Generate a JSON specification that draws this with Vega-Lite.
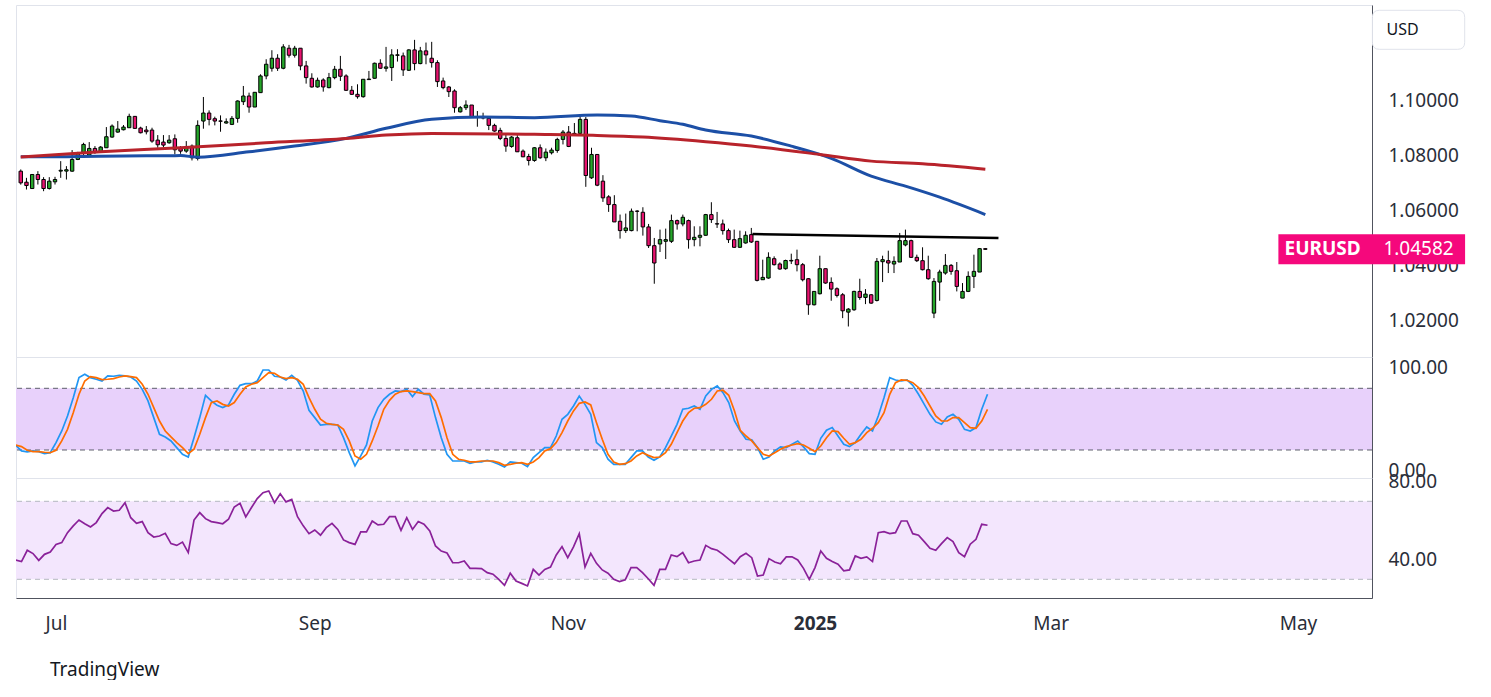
{
"$schema":"https://vega.github.io/schema/vega-lite/v6.json",
"background":"#ffffff",
"padding":{"left":15,"top":4,"right":0,"bottom":0},
"spacing":0,
"bounds":"flush",
"config":{"view":{"stroke":"#e0e3eb","strokeWidth":1},"font":"Noto Sans","axis":{"grid":false,"ticks":false,"tickSize":0,"domainColor":"#50535e","labelFont":"Noto Sans","labelFontSize":19,"labelColor":"#2a2e39"}},
"title":{"text":"TradingView","orient":"bottom","anchor":"start","font":"Noto Sans","fontSize":19,"fontWeight":"normal","color":"#131722","offset":27,"dx":35},
"datasets":{
"bars":[
{"i":-7,"o":1.07418,"h":1.0748,"l":1.0693,"c":1.06994,"k":24.6,"d":24.9,"r":39.9},
{"i":-6,"o":1.07018,"h":1.07176,"l":1.06752,"c":1.06897,"k":19.1,"d":23.3,"r":39.1},
{"i":-5,"o":1.06788,"h":1.0731,"l":1.0677,"c":1.07297,"k":18.1,"d":19.7,"r":44.9},
{"i":-4,"o":1.07297,"h":1.07418,"l":1.06933,"c":1.07115,"k":19.1,"d":18.4,"r":43.2},
{"i":-3,"o":1.07115,"h":1.072,"l":1.06691,"c":1.06788,"k":18.4,"d":18.4,"r":39.7},
{"i":-2,"o":1.06788,"h":1.072,"l":1.06752,"c":1.07055,"k":16.5,"d":17.8,"r":42.8},
{"i":-1,"o":1.0703,"h":1.07212,"l":1.06933,"c":1.07115,"k":17.4,"d":17.4,"r":44.0},
{"i":0,"o":1.0742,"h":1.07782,"l":1.07176,"c":1.0745,"k":27.2,"d":19.7,"r":47.9},
{"i":1,"o":1.0742,"h":1.076,"l":1.07115,"c":1.0747,"k":38.5,"d":28.8,"r":48.8},
{"i":2,"o":1.07418,"h":1.08182,"l":1.07394,"c":1.07842,"k":53.1,"d":40.1,"r":53.9},
{"i":3,"o":1.07842,"h":1.0812,"l":1.0782,"c":1.08085,"k":70.9,"d":56.3,"r":57.4},
{"i":4,"o":1.08085,"h":1.08448,"l":1.08,"c":1.08388,"k":90.4,"d":74.2,"r":60.4},
{"i":5,"o":1.08,"h":1.08473,"l":1.07964,"c":1.08242,"k":93.6,"d":87.1,"r":58.5},
{"i":6,"o":1.08242,"h":1.08327,"l":1.08048,"c":1.08121,"k":90.4,"d":91.3,"r":56.8},
{"i":7,"o":1.08121,"h":1.08327,"l":1.0811,"c":1.08291,"k":88.8,"d":90.4,"r":59.1},
{"i":8,"o":1.08267,"h":1.09018,"l":1.08267,"c":1.08667,"k":87.1,"d":88.4,"r":63.7},
{"i":9,"o":1.08655,"h":1.09115,"l":1.0863,"c":1.09055,"k":92.0,"d":88.8,"r":66.8},
{"i":10,"o":1.08836,"h":1.09236,"l":1.08812,"c":1.08945,"k":91.7,"d":89.4,"r":65.0},
{"i":11,"o":1.08921,"h":1.09091,"l":1.08897,"c":1.09018,"k":92.6,"d":91.0,"r":65.4},
{"i":12,"o":1.08994,"h":1.09503,"l":1.08994,"c":1.09406,"k":92.0,"d":92.0,"r":69.3},
{"i":13,"o":1.09406,"h":1.09418,"l":1.08958,"c":1.0897,"k":91.0,"d":91.3,"r":61.6},
{"i":14,"o":1.08982,"h":1.0903,"l":1.08788,"c":1.08812,"k":87.1,"d":90.4,"r":58.7},
{"i":15,"o":1.08909,"h":1.09055,"l":1.08752,"c":1.08848,"k":79.0,"d":83.9,"r":59.6},
{"i":16,"o":1.08909,"h":1.08994,"l":1.08448,"c":1.08509,"k":67.7,"d":74.2,"r":53.9},
{"i":17,"o":1.08545,"h":1.08727,"l":1.08267,"c":1.08376,"k":51.5,"d":61.2,"r":51.7},
{"i":18,"o":1.08473,"h":1.08727,"l":1.08291,"c":1.08364,"k":35.3,"d":48.2,"r":52.2},
{"i":19,"o":1.08448,"h":1.08727,"l":1.08412,"c":1.08545,"k":32.7,"d":38.5,"r":53.6},
{"i":20,"o":1.08594,"h":1.08752,"l":1.08024,"c":1.08194,"k":28.8,"d":32.7,"r":48.3},
{"i":21,"o":1.08242,"h":1.08327,"l":1.08048,"c":1.08145,"k":22.3,"d":27.2,"r":47.4},
{"i":22,"o":1.08145,"h":1.08509,"l":1.08085,"c":1.08267,"k":15.8,"d":22.3,"r":49.1},
{"i":23,"o":1.08327,"h":1.08388,"l":1.07806,"c":1.07903,"k":13.2,"d":16.5,"r":43.7},
{"i":24,"o":1.07879,"h":1.09261,"l":1.07806,"c":1.09079,"k":32.0,"d":20.7,"r":60.4},
{"i":25,"o":1.09236,"h":1.10109,"l":1.08958,"c":1.09527,"k":51.5,"d":35.3,"r":64.2},
{"i":26,"o":1.09527,"h":1.09624,"l":1.09079,"c":1.09297,"k":73.2,"d":51.5,"r":61.1},
{"i":27,"o":1.09321,"h":1.09394,"l":1.09079,"c":1.09236,"k":67.7,"d":66.1,"r":59.6},
{"i":28,"o":1.0924,"h":1.09442,"l":1.08848,"c":1.0923,"k":63.5,"d":67.7,"r":59.1},
{"i":29,"o":1.09164,"h":1.09333,"l":1.09139,"c":1.09212,"k":61.2,"d":64.4,"r":58.5},
{"i":30,"o":1.09115,"h":1.09418,"l":1.09091,"c":1.09333,"k":63.8,"d":62.8,"r":60.8},
{"i":31,"o":1.09333,"h":1.09988,"l":1.09176,"c":1.09964,"k":74.2,"d":66.1,"r":67.1},
{"i":32,"o":1.09939,"h":1.10509,"l":1.09818,"c":1.10145,"k":82.9,"d":74.2,"r":69.0},
{"i":33,"o":1.10145,"h":1.10267,"l":1.09539,"c":1.09745,"k":84.5,"d":81.3,"r":62.0},
{"i":34,"o":1.09745,"h":1.10279,"l":1.09745,"c":1.10279,"k":84.5,"d":83.9,"r":66.8},
{"i":35,"o":1.10267,"h":1.10933,"l":1.10267,"c":1.10873,"k":87.1,"d":85.5,"r":71.4},
{"i":36,"o":1.10873,"h":1.11479,"l":1.10752,"c":1.11297,"k":97.8,"d":90.4,"r":74.4},
{"i":37,"o":1.11152,"h":1.11806,"l":1.1103,"c":1.11515,"k":97.8,"d":95.2,"r":75.3},
{"i":38,"o":1.11515,"h":1.11661,"l":1.11055,"c":1.11152,"k":91.7,"d":94.6,"r":69.3},
{"i":39,"o":1.11152,"h":1.12024,"l":1.11115,"c":1.11927,"k":91.0,"d":91.0,"r":73.9},
{"i":40,"o":1.11879,"h":1.12,"l":1.11539,"c":1.11624,"k":88.1,"d":89.4,"r":69.7},
{"i":41,"o":1.11624,"h":1.11964,"l":1.11539,"c":1.11879,"k":92.6,"d":90.4,"r":71.0},
{"i":42,"o":1.11879,"h":1.11879,"l":1.11079,"c":1.11236,"k":87.8,"d":88.8,"r":62.1},
{"i":43,"o":1.11236,"h":1.11418,"l":1.10594,"c":1.10812,"k":77.4,"d":83.9,"r":57.4},
{"i":44,"o":1.10788,"h":1.1097,"l":1.10449,"c":1.10473,"k":58.6,"d":70.9,"r":53.4},
{"i":45,"o":1.10473,"h":1.10812,"l":1.10449,"c":1.10715,"k":51.5,"d":59.6,"r":55.3},
{"i":46,"o":1.10727,"h":1.10788,"l":1.10303,"c":1.10473,"k":44.3,"d":49.9,"r":52.6},
{"i":47,"o":1.10449,"h":1.10982,"l":1.10424,"c":1.10812,"k":45.0,"d":46.0,"r":56.5},
{"i":48,"o":1.10812,"h":1.11236,"l":1.10752,"c":1.11115,"k":45.0,"d":45.0,"r":58.7},
{"i":49,"o":1.11115,"h":1.116,"l":1.10691,"c":1.10861,"k":44.3,"d":44.3,"r":55.6},
{"i":50,"o":1.10873,"h":1.10933,"l":1.10327,"c":1.10352,"k":32.0,"d":40.1,"r":50.2},
{"i":51,"o":1.10352,"h":1.10509,"l":1.10182,"c":1.10206,"k":17.4,"d":28.8,"r":48.8},
{"i":52,"o":1.10206,"h":1.1057,"l":1.10048,"c":1.1012,"k":4.5,"d":14.2,"r":47.9},
{"i":53,"o":1.1012,"h":1.10752,"l":1.10085,"c":1.10752,"k":14.2,"d":11.0,"r":54.3},
{"i":54,"o":1.1074,"h":1.11055,"l":1.10727,"c":1.1076,"k":24.9,"d":15.8,"r":54.3},
{"i":55,"o":1.10788,"h":1.11357,"l":1.10776,"c":1.11333,"k":48.2,"d":28.8,"r":59.9},
{"i":56,"o":1.11333,"h":1.11479,"l":1.1114,"c":1.11152,"k":61.2,"d":43.4,"r":57.9},
{"i":57,"o":1.1115,"h":1.11927,"l":1.1103,"c":1.112,"k":69.3,"d":59.6,"r":58.2},
{"i":58,"o":1.11176,"h":1.11842,"l":1.10691,"c":1.11636,"k":74.2,"d":68.3,"r":62.1},
{"i":59,"o":1.1162,"h":1.11842,"l":1.11394,"c":1.1164,"k":77.4,"d":74.2,"r":62.1},
{"i":60,"o":1.116,"h":1.11721,"l":1.10873,"c":1.11091,"k":76.8,"d":76.8,"r":55.1},
{"i":61,"o":1.11079,"h":1.11842,"l":1.11055,"c":1.11818,"k":79.0,"d":77.4,"r":61.6},
{"i":62,"o":1.11818,"h":1.12182,"l":1.11079,"c":1.11321,"k":71.9,"d":76.8,"r":55.6},
{"i":63,"o":1.11321,"h":1.11927,"l":1.11297,"c":1.11782,"k":79.0,"d":75.8,"r":59.6},
{"i":64,"o":1.11782,"h":1.12085,"l":1.11297,"c":1.11636,"k":74.2,"d":74.8,"r":58.2},
{"i":65,"o":1.11515,"h":1.1211,"l":1.11176,"c":1.11357,"k":73.5,"d":74.8,"r":54.8},
{"i":66,"o":1.11357,"h":1.11442,"l":1.10473,"c":1.10667,"k":51.5,"d":67.7,"r":47.1},
{"i":67,"o":1.10691,"h":1.10812,"l":1.10388,"c":1.10449,"k":32.0,"d":51.5,"r":44.5},
{"i":68,"o":1.10473,"h":1.10509,"l":1.10109,"c":1.10303,"k":15.8,"d":32.0,"r":43.5},
{"i":69,"o":1.10327,"h":1.10388,"l":1.09539,"c":1.09721,"k":9.3,"d":15.8,"r":38.5},
{"i":70,"o":1.0957,"h":1.09782,"l":1.09545,"c":1.09721,"k":9.3,"d":11.0,"r":38.5},
{"i":71,"o":1.09721,"h":1.09988,"l":1.09636,"c":1.09818,"k":9.3,"d":10.0,"r":39.4},
{"i":72,"o":1.09818,"h":1.09818,"l":1.09382,"c":1.09394,"k":7.1,"d":8.4,"r":35.6},
{"i":73,"o":1.094,"h":1.096,"l":1.0903,"c":1.0938,"k":8.4,"d":8.4,"r":35.6},
{"i":74,"o":1.0936,"h":1.09539,"l":1.09297,"c":1.0935,"k":8.4,"d":9.3,"r":35.5},
{"i":75,"o":1.09333,"h":1.09418,"l":1.08909,"c":1.09079,"k":10.0,"d":9.3,"r":33.4},
{"i":76,"o":1.09079,"h":1.09139,"l":1.08848,"c":1.08873,"k":8.4,"d":9.3,"r":32.6},
{"i":77,"o":1.08897,"h":1.08994,"l":1.08545,"c":1.08606,"k":6.1,"d":7.7,"r":30.0},
{"i":78,"o":1.08606,"h":1.08752,"l":1.08121,"c":1.08327,"k":3.5,"d":5.1,"r":26.9},
{"i":79,"o":1.08315,"h":1.08691,"l":1.08267,"c":1.08655,"k":8.4,"d":6.1,"r":33.1},
{"i":80,"o":1.0863,"h":1.08727,"l":1.08121,"c":1.08121,"k":7.7,"d":7.1,"r":29.1},
{"i":81,"o":1.08145,"h":1.08206,"l":1.07927,"c":1.07939,"k":7.1,"d":7.7,"r":27.9},
{"i":82,"o":1.07951,"h":1.08048,"l":1.07624,"c":1.07806,"k":3.8,"d":6.1,"r":26.6},
{"i":83,"o":1.07806,"h":1.08291,"l":1.07758,"c":1.08267,"k":12.6,"d":8.4,"r":35.1},
{"i":84,"o":1.08267,"h":1.08388,"l":1.07867,"c":1.07903,"k":17.4,"d":12.6,"r":32.2},
{"i":85,"o":1.07903,"h":1.08242,"l":1.07782,"c":1.08109,"k":22.3,"d":19.1,"r":35.1},
{"i":86,"o":1.08085,"h":1.08267,"l":1.08024,"c":1.08182,"k":22.3,"d":21.3,"r":36.3},
{"i":87,"o":1.0817,"h":1.0863,"l":1.08085,"c":1.0857,"k":33.6,"d":27.2,"r":42.5},
{"i":88,"o":1.0857,"h":1.08909,"l":1.08388,"c":1.08836,"k":49.9,"d":36.9,"r":46.8},
{"i":89,"o":1.08836,"h":1.09055,"l":1.08291,"c":1.08315,"k":54.7,"d":48.2,"r":41.1},
{"i":90,"o":1.0877,"h":1.09164,"l":1.08697,"c":1.0879,"k":62.8,"d":58.0,"r":46.6},
{"i":91,"o":1.0879,"h":1.09382,"l":1.08752,"c":1.09297,"k":72.5,"d":65.4,"r":53.4},
{"i":92,"o":1.09297,"h":1.09382,"l":1.06849,"c":1.07261,"k":64.4,"d":66.7,"r":36.3},
{"i":93,"o":1.07176,"h":1.08267,"l":1.07139,"c":1.08024,"k":54.7,"d":63.8,"r":43.3},
{"i":94,"o":1.08024,"h":1.08024,"l":1.06873,"c":1.06909,"k":27.2,"d":46.6,"r":38.2},
{"i":95,"o":1.07055,"h":1.07273,"l":1.06303,"c":1.06449,"k":22.3,"d":30.4,"r":34.8},
{"i":96,"o":1.06485,"h":1.06546,"l":1.0594,"c":1.06206,"k":11.0,"d":15.8,"r":33.1},
{"i":97,"o":1.06206,"h":1.06546,"l":1.05576,"c":1.05576,"k":6.1,"d":8.4,"r":30.0},
{"i":98,"o":1.056,"h":1.05843,"l":1.0497,"c":1.05261,"k":6.1,"d":6.1,"r":28.8},
{"i":99,"o":1.05261,"h":1.05879,"l":1.05176,"c":1.05358,"k":6.1,"d":6.7,"r":29.7},
{"i":100,"o":1.05261,"h":1.06061,"l":1.05236,"c":1.05964,"k":12.6,"d":9.3,"r":36.0},
{"i":101,"o":1.0597,"h":1.06,"l":1.05236,"c":1.0596,"k":19.1,"d":14.2,"r":36.0},
{"i":102,"o":1.05927,"h":1.06109,"l":1.05079,"c":1.05394,"k":19.1,"d":17.4,"r":33.4},
{"i":103,"o":1.05394,"h":1.05503,"l":1.0463,"c":1.04715,"k":13.2,"d":14.8,"r":30.3},
{"i":104,"o":1.04715,"h":1.04994,"l":1.03333,"c":1.04085,"k":10.0,"d":12.6,"r":26.9},
{"i":105,"o":1.04776,"h":1.05297,"l":1.04485,"c":1.04933,"k":13.2,"d":13.2,"r":35.1},
{"i":106,"o":1.04873,"h":1.05333,"l":1.0423,"c":1.04933,"k":22.3,"d":17.4,"r":35.1},
{"i":107,"o":1.04873,"h":1.05842,"l":1.04812,"c":1.05624,"k":33.6,"d":25.5,"r":42.5},
{"i":108,"o":1.05624,"h":1.05661,"l":1.05297,"c":1.05503,"k":45.0,"d":36.9,"r":41.6},
{"i":109,"o":1.05503,"h":1.05842,"l":1.05418,"c":1.05745,"k":59.6,"d":48.2,"r":43.7},
{"i":110,"o":1.05624,"h":1.05661,"l":1.04606,"c":1.04933,"k":60.6,"d":56.3,"r":38.5},
{"i":111,"o":1.04933,"h":1.05418,"l":1.04691,"c":1.05018,"k":62.8,"d":60.6,"r":39.4},
{"i":112,"o":1.05018,"h":1.05418,"l":1.04691,"c":1.05091,"k":59.6,"d":61.2,"r":39.9},
{"i":113,"o":1.05091,"h":1.05867,"l":1.05079,"c":1.05842,"k":72.5,"d":64.4,"r":47.4},
{"i":114,"o":1.05842,"h":1.06291,"l":1.05539,"c":1.05661,"k":79.0,"d":69.3,"r":45.7},
{"i":115,"o":1.0551,"h":1.05939,"l":1.05358,"c":1.055,"k":82.3,"d":77.4,"r":44.9},
{"i":116,"o":1.05503,"h":1.05661,"l":1.05115,"c":1.05261,"k":75.8,"d":78.1,"r":42.8},
{"i":117,"o":1.05261,"h":1.05333,"l":1.04812,"c":1.04933,"k":66.1,"d":73.2,"r":40.3},
{"i":118,"o":1.04933,"h":1.05297,"l":1.0463,"c":1.04655,"k":48.2,"d":58.0,"r":38.0},
{"i":119,"o":1.04655,"h":1.0526,"l":1.0463,"c":1.0497,"k":38.5,"d":39.2,"r":41.6},
{"i":120,"o":1.04812,"h":1.05236,"l":1.04788,"c":1.05091,"k":30.4,"d":33.6,"r":43.3},
{"i":121,"o":1.05115,"h":1.05358,"l":1.04812,"c":1.04848,"k":29.8,"d":28.8,"r":41.1},
{"i":122,"o":1.04873,"h":1.04873,"l":1.03418,"c":1.03455,"k":22.3,"d":22.3,"r":31.7},
{"i":123,"o":1.03479,"h":1.04206,"l":1.03479,"c":1.03564,"k":11.0,"d":15.8,"r":32.2},
{"i":124,"o":1.0354,"h":1.04473,"l":1.03515,"c":1.04291,"k":13.2,"d":14.2,"r":40.6},
{"i":125,"o":1.04242,"h":1.04327,"l":1.03994,"c":1.04024,"k":19.1,"d":17.4,"r":38.9},
{"i":126,"o":1.0405,"h":1.04109,"l":1.03842,"c":1.03867,"k":23.0,"d":20.7,"r":38.0},
{"i":127,"o":1.03879,"h":1.04206,"l":1.03842,"c":1.04176,"k":22.3,"d":23.3,"r":41.5},
{"i":128,"o":1.0416,"h":1.04424,"l":1.04048,"c":1.0418,"k":25.5,"d":24.9,"r":41.5},
{"i":129,"o":1.04206,"h":1.0457,"l":1.03782,"c":1.04024,"k":28.8,"d":26.2,"r":39.9},
{"i":130,"o":1.04024,"h":1.04085,"l":1.03418,"c":1.03479,"k":23.0,"d":24.9,"r":35.6},
{"i":131,"o":1.03515,"h":1.0354,"l":1.02206,"c":1.0257,"k":16.5,"d":21.7,"r":30.0},
{"i":132,"o":1.0257,"h":1.03055,"l":1.02545,"c":1.03055,"k":15.8,"d":18.4,"r":36.0},
{"i":133,"o":1.0297,"h":1.04351,"l":1.02945,"c":1.03879,"k":31.4,"d":23.9,"r":44.5},
{"i":134,"o":1.03879,"h":1.03879,"l":1.03333,"c":1.03358,"k":39.2,"d":32.0,"r":40.8},
{"i":135,"o":1.03382,"h":1.03564,"l":1.02715,"c":1.03139,"k":41.8,"d":38.5,"r":39.1},
{"i":136,"o":1.03151,"h":1.032,"l":1.02836,"c":1.02909,"k":33.6,"d":37.9,"r":37.7},
{"i":137,"o":1.02933,"h":1.02994,"l":1.02085,"c":1.02351,"k":25.5,"d":31.4,"r":34.3},
{"i":138,"o":1.02303,"h":1.02449,"l":1.01782,"c":1.02412,"k":23.3,"d":25.5,"r":34.8},
{"i":139,"o":1.02388,"h":1.03079,"l":1.02351,"c":1.03055,"k":27.2,"d":27.2,"r":42.0},
{"i":140,"o":1.03055,"h":1.03515,"l":1.02751,"c":1.02836,"k":35.3,"d":30.4,"r":40.8},
{"i":141,"o":1.02836,"h":1.03139,"l":1.02594,"c":1.02958,"k":42.4,"d":36.9,"r":41.5},
{"i":142,"o":1.02933,"h":1.02958,"l":1.02606,"c":1.0263,"k":38.5,"d":41.1,"r":39.1},
{"i":143,"o":1.02727,"h":1.04267,"l":1.02691,"c":1.04145,"k":53.1,"d":46.6,"r":53.9},
{"i":144,"o":1.04133,"h":1.04351,"l":1.03394,"c":1.04206,"k":70.9,"d":56.3,"r":54.4},
{"i":145,"o":1.0417,"h":1.04533,"l":1.03721,"c":1.04085,"k":90.4,"d":74.2,"r":53.4},
{"i":146,"o":1.04048,"h":1.04327,"l":1.03721,"c":1.04145,"k":88.1,"d":85.5,"r":53.9},
{"i":147,"o":1.04121,"h":1.05176,"l":1.04121,"c":1.04897,"k":87.1,"d":88.1,"r":59.9},
{"i":148,"o":1.0474,"h":1.05297,"l":1.04691,"c":1.04897,"k":88.1,"d":87.8,"r":59.9},
{"i":149,"o":1.04897,"h":1.04933,"l":1.04267,"c":1.04291,"k":82.9,"d":85.5,"r":53.4},
{"i":150,"o":1.04291,"h":1.04388,"l":1.04121,"c":1.0417,"k":74.2,"d":80.6,"r":52.6},
{"i":151,"o":1.0417,"h":1.04655,"l":1.03818,"c":1.03842,"k":64.4,"d":72.5,"r":49.3},
{"i":152,"o":1.03842,"h":1.04351,"l":1.03479,"c":1.03515,"k":54.7,"d":62.8,"r":45.9},
{"i":153,"o":1.02267,"h":1.0354,"l":1.02085,"c":1.03418,"k":47.3,"d":53.1,"r":44.9},
{"i":154,"o":1.03394,"h":1.03842,"l":1.02715,"c":1.03758,"k":45.0,"d":48.2,"r":48.3},
{"i":155,"o":1.03721,"h":1.04412,"l":1.03661,"c":1.04,"k":52.1,"d":48.2,"r":51.4},
{"i":156,"o":1.04,"h":1.04048,"l":1.03661,"c":1.03782,"k":54.7,"d":51.5,"r":49.3},
{"i":157,"o":1.03806,"h":1.04121,"l":1.03055,"c":1.03236,"k":49.9,"d":51.5,"r":43.7},
{"i":158,"o":1.02812,"h":1.03358,"l":1.02812,"c":1.03055,"k":40.1,"d":46.6,"r":41.6},
{"i":159,"o":1.03055,"h":1.03782,"l":1.0303,"c":1.036,"k":38.5,"d":41.8,"r":48.0},
{"i":160,"o":1.036,"h":1.04388,"l":1.03176,"c":1.03782,"k":41.8,"d":41.1,"r":50.5},
{"i":161,"o":1.03758,"h":1.0463,"l":1.03758,"c":1.04606,"k":59.6,"d":48.2,"r":58.2},
{"i":162,"o":1.04606,"h":1.0463,"l":1.0456,"c":1.04582,"k":74.2,"d":59.6,"r":57.7}
],
"ma":[
{"s":"fast","i":-7,"v":1.07938},{"s":"fast","i":1,"v":1.07945},{"s":"fast","i":11,"v":1.07964},{"s":"fast","i":21,"v":1.07982},{"s":"fast","i":24,"v":1.07927},{"s":"fast","i":33,"v":1.0812},{"s":"fast","i":41,"v":1.08327},{"s":"fast","i":50,"v":1.08607},{"s":"fast","i":57,"v":1.08973},{"s":"fast","i":65,"v":1.09298},{"s":"fast","i":74,"v":1.09382},{"s":"fast","i":83,"v":1.09358},{"s":"fast","i":94,"v":1.09456},{"s":"fast","i":100,"v":1.0942},{"s":"fast","i":105,"v":1.0925},{"s":"fast","i":109,"v":1.09118},{"s":"fast","i":113,"v":1.08909},{"s":"fast","i":121,"v":1.08691},{"s":"fast","i":128,"v":1.08327},{"s":"fast","i":133,"v":1.08025},{"s":"fast","i":135,"v":1.0788},{"s":"fast","i":142,"v":1.07236},{"s":"fast","i":148,"v":1.06873},{"s":"fast","i":154,"v":1.06473},{"s":"fast","i":162,"v":1.05844},
{"s":"slow","i":-7,"v":1.07927},{"s":"slow","i":7,"v":1.0812},{"s":"slow","i":21,"v":1.08265},{"s":"slow","i":36,"v":1.08447},{"s":"slow","i":50,"v":1.08607},{"s":"slow","i":57,"v":1.08727},{"s":"slow","i":65,"v":1.08789},{"s":"slow","i":83,"v":1.08753},{"s":"slow","i":94,"v":1.08716},{"s":"slow","i":102,"v":1.08655},{"s":"slow","i":113,"v":1.08484},{"s":"slow","i":121,"v":1.08327},{"s":"slow","i":133,"v":1.08025},{"s":"slow","i":142,"v":1.07782},{"s":"slow","i":151,"v":1.07684},{"s":"slow","i":162,"v":1.07491}
],
"trend":[{"i":121.2,"v":1.05138},{"i":164.3,"v":1.04993}],
"quote":[{"sym":"EURUSD","cur":"USD","last":1.04582}],
"stlev":[{"lo":20,"hi":80}],
"rsilev":[{"lo":30,"hi":70}]
},
"vconcat":[
{
"width":1356,"height":352,
"layer":[
{"data":{"name":"bars"},"mark":{"type":"rule","color":"#000000","strokeWidth":1,"clip":true},
 "encoding":{"x":{"field":"i","type":"quantitative","scale":{"domain":[-6.957,228.87],"nice":false,"zero":false},"axis":null},
  "y":{"field":"l","type":"quantitative","title":null,"scale":{"domain":[1.00675,1.13447],"nice":false,"zero":false},"axis":{"orient":"right","values":[1.02,1.04,1.06,1.08,1.1],"format":".5f","labelPadding":16,"title":null}},
  "y2":{"field":"h"}}},
{"data":{"name":"bars"},"mark":{"type":"bar","width":3.4,"stroke":"#000000","strokeWidth":1,"clip":true},
 "encoding":{"x":{"field":"i","type":"quantitative"},"y":{"field":"o","type":"quantitative","title":null},"y2":{"field":"c"},
  "fill":{"condition":{"test":"datum.c >= datum.o","value":"#25a62a"},"value":"#e8136f"}}},
{"data":{"name":"ma"},"mark":{"type":"line","strokeWidth":3,"interpolate":"monotone","clip":true},
 "encoding":{"x":{"field":"i","type":"quantitative"},"y":{"field":"v","type":"quantitative","title":null},
  "color":{"field":"s","type":"nominal","scale":{"domain":["slow","fast"],"range":["#b8232b","#1c4fa6"]},"legend":null}}},
{"data":{"name":"trend"},"mark":{"type":"line","color":"#000000","strokeWidth":2.5},
 "encoding":{"x":{"field":"i","type":"quantitative"},"y":{"field":"v","type":"quantitative","title":null}}},
{"data":{"name":"quote"},"mark":{"type":"point","shape":"M-0.848,-0.4225L0.848,-0.4225Q1,-0.4225 1,-0.27L1,0.27Q1,0.4225 0.848,0.4225L-0.848,0.4225Q-1,0.4225 -1,0.27L-1,-0.27Q-1,-0.4225 -0.848,-0.4225Z","size":8519,"filled":true,"fill":"#ffffff","stroke":"#e0e3eb","strokeWidth":1,"opacity":1},
 "encoding":{"x":{"datum":237.9,"type":"quantitative"},"y":{"datum":1.12547,"type":"quantitative"}}},
{"data":{"name":"quote"},"mark":{"type":"text","fontSize":16,"color":"#131722","align":"center","baseline":"middle"},
 "encoding":{"x":{"datum":235.1,"type":"quantitative"},"y":{"datum":1.12547,"type":"quantitative"},"text":{"field":"cur"}}},
{"data":{"name":"quote"},"mark":{"type":"point","shape":"M-1,-0.1607L1,-0.1607L1,0.1607L-1,0.1607Z","size":34857,"filled":true,"fill":"#f5087c","strokeWidth":0,"opacity":1},
 "encoding":{"x":{"datum":229.7,"type":"quantitative"},"y":{"field":"last","type":"quantitative","title":null}}},
{"data":{"name":"quote"},"mark":{"type":"text","fontSize":19,"fontWeight":"bold","color":"#ffffff","align":"center","baseline":"middle"},
 "encoding":{"x":{"datum":221.1,"type":"quantitative"},"y":{"field":"last","type":"quantitative","title":null},"text":{"field":"sym"}}},
{"data":{"name":"quote"},"mark":{"type":"text","fontSize":19,"color":"#ffffff","align":"center","baseline":"middle"},
 "encoding":{"x":{"datum":237.9,"type":"quantitative"},"y":{"field":"last","type":"quantitative","title":null},"text":{"field":"last","format":".5f"}}}
]
},
{
"width":1356,"height":121,
"layer":[
{"data":{"name":"stlev"},"mark":{"type":"rect","color":"#e8d1fb"},
 "encoding":{"y":{"field":"lo","type":"quantitative","title":null,"scale":{"domain":[-7.23,110.44],"nice":false,"zero":false},"axis":{"orient":"right","values":[0,100],"format":".2f","labelPadding":16,"title":null}},"y2":{"field":"hi"}}},
{"data":{"name":"stlev"},"mark":{"type":"rule","color":"#5d606b","strokeDash":[5,4],"strokeWidth":1},
 "encoding":{"y":{"field":"lo","type":"quantitative"}}},
{"data":{"name":"stlev"},"mark":{"type":"rule","color":"#5d606b","strokeDash":[5,4],"strokeWidth":1},
 "encoding":{"y":{"field":"hi","type":"quantitative"}}},
{"data":{"name":"bars"},"mark":{"type":"line","color":"#2196f3","strokeWidth":1.7,"clip":true},
 "encoding":{"x":{"field":"i","type":"quantitative","scale":{"domain":[-6.957,228.87],"nice":false,"zero":false},"axis":null},"y":{"field":"k","type":"quantitative","title":null}}},
{"data":{"name":"bars"},"mark":{"type":"line","color":"#ff6d00","strokeWidth":1.7,"clip":true},
 "encoding":{"x":{"field":"i","type":"quantitative"},"y":{"field":"d","type":"quantitative","title":null}}}
]
},
{
"width":1356,"height":120,
"layer":[
{"data":{"name":"rsilev"},"mark":{"type":"rect","color":"#f3e6fd"},
 "encoding":{"y":{"field":"lo","type":"quantitative","title":null,"scale":{"domain":[20.41,81.95],"nice":false,"zero":false},"axis":{"orient":"right","values":[40,80],"format":".2f","labelPadding":16,"title":null}},"y2":{"field":"hi"}}},
{"data":{"name":"rsilev"},"mark":{"type":"rule","color":"#b5b8c0","strokeDash":[5,4],"strokeWidth":1},
 "encoding":{"y":{"field":"lo","type":"quantitative"}}},
{"data":{"name":"rsilev"},"mark":{"type":"rule","color":"#b5b8c0","strokeDash":[5,4],"strokeWidth":1},
 "encoding":{"y":{"field":"hi","type":"quantitative"}}},
{"data":{"name":"bars"},"mark":{"type":"line","color":"#8a2199","strokeWidth":1.7,"clip":true},
 "encoding":{"x":{"field":"i","type":"quantitative","title":null,"scale":{"domain":[-6.957,228.87],"nice":false,"zero":false},
   "axis":{"orient":"bottom","values":[0,45,89,132,173,216],"labelExpr":"datum.value == 0 ? 'Jul' : datum.value == 45 ? 'Sep' : datum.value == 89 ? 'Nov' : datum.value == 132 ? '2025' : datum.value == 173 ? 'Mar' : 'May'","labelFontWeight":{"condition":{"test":"datum.value == 132","value":"bold"},"value":"normal"},"labelPadding":16,"labelFlush":false,"labelOverlap":false,"title":null}},
  "y":{"field":"r","type":"quantitative","title":null}}}
]
}
]
}
